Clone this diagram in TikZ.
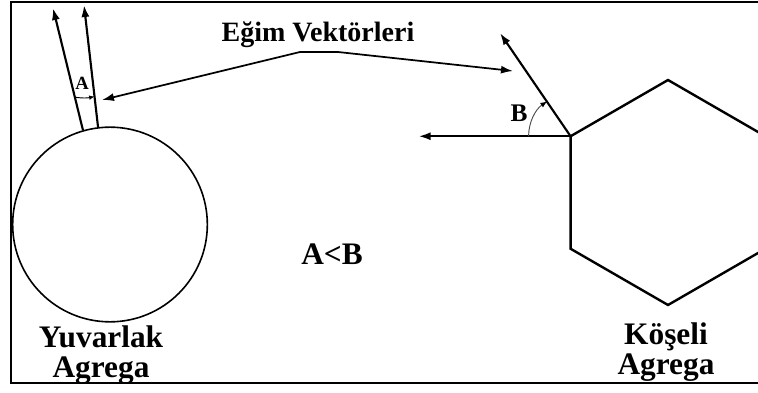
\documentclass[tikz,border=0pt]{standalone}
\usepackage{fontspec}
\setmainfont{Liberation Serif}
\usetikzlibrary{calc,arrows.meta}

\begin{document}
\begin{tikzpicture}[x=0.75pt,y=-0.75pt,
    vec/.style={line width=1.6pt,-{Latex[length=9pt,width=6pt]}},
    big/.style={font=\bfseries\fontsize{23.5}{22.5}\selectfont,align=center,inner sep=0pt}]
  \useasboundingbox (0,0) rectangle (758,393);
  \draw[line width=1.5pt] (758,2) -- (11,2) -- (11,383) -- (758,383);
  % round aggregate
  \node[draw,circle,line width=1.2pt,minimum size=146pt,inner sep=0pt] (circ) at (110,224.5) {};
  \coordinate (ta1) at (53,8);\coordinate (ta2) at (84,5);
  \draw[vec] (circ.106) -- (ta1);
  \draw[vec] (circ.97) -- (ta2);
  \draw[line width=0.7pt,-{Latex[length=4pt,width=3.5pt]}] ($(circ.106)!0.27!(ta1)$) to[bend right=10] ($(circ.97)!0.25!(ta2)$);
  \node[font=\bfseries\fontsize{14}{14}\selectfont,inner sep=0pt] (la) at (82,83) {A};
  % angular aggregate
  \coordinate (hc) at (668,192.5);
  \foreach \k in {0,...,5}{\coordinate (h\k) at ($(hc)+(90+60*\k:112.5)$);}
  \begin{scope}
    \clip (11,2) rectangle (758,383);
    \draw[line width=1.8pt] (h0) \foreach \k in {1,...,5}{-- (h\k)} -- cycle;
  \end{scope}
  \coordinate (tb1) at (500,33);
  \coordinate (tb2) at ($(h2)+(-152,0)$);
  \draw[vec] (h2) -- (tb1);
  \draw[vec] (h2) -- (tb2);
  \draw[line width=0.7pt,black!70,-{Latex[length=5pt,width=4pt,fill=black,color=black]}] ($(h2)+(-42,0)$) arc[start angle=180,end angle=236,radius=42];
  \node[font=\bfseries\fontsize{19}{19}\selectfont,inner sep=0pt] (lb) at (519,113) {B};
  % labels
  \node[font=\bfseries\fontsize{21}{21}\selectfont,inner sep=0pt] (eg) at (318,35) {Eğim Vektörleri};
  \coordinate (k1) at (300,52);\coordinate (k2) at (338,52);
  \coordinate (pa) at (102,100);\coordinate (pb) at (513,71);
  \draw[line width=1.3pt,{Latex[length=9pt,width=6pt]}-{Latex[length=9pt,width=6pt]}] (pa) -- (k1) -- (k2) -- (pb);
  \node[big] (cmp) at (332,254) {A<B};
  \node[big] (yuv) at (101,355) {Yuvarlak\\Agrega};
  \node[big] (kos) at (666,352) {Köşeli\\Agrega};
\end{tikzpicture}
\end{document}
